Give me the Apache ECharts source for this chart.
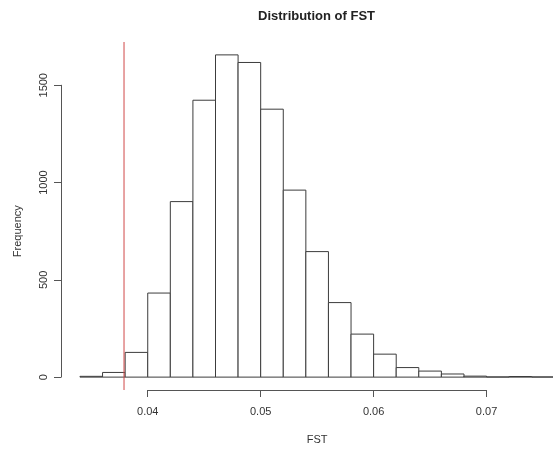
<!DOCTYPE html>
<html><head><meta charset="utf-8">
<script src="https://cdn.jsdelivr.net/npm/echarts@6/dist/echarts.min.js"></script>
<style>html,body{margin:0;padding:0;background:#fff}#c{width:553px;height:450px}</style>
</head><body><div id="c"></div>
<script>
// ---- data ----
const binStart = [0.034, 0.036, 0.038, 0.040, 0.042, 0.044, 0.046, 0.048, 0.050, 0.052,
                  0.054, 0.056, 0.058, 0.060, 0.062, 0.064, 0.066, 0.068, 0.070, 0.072, 0.074];
const binWidth = 0.002;
const frequency = [4, 24, 127, 432, 902, 1423, 1656, 1617, 1377, 961,
                   645, 383, 221, 118, 49, 31, 16, 5, 1, 3, 1];
const thresholdFST = 0.0379;
const xTicks = [0.04, 0.05, 0.06, 0.07];
const yTicks = [0, 500, 1000, 1500];
const titleText = 'Distribution of FST';
const xLabel = 'FST';
const yLabel = 'Frequency';

// ---- layout (R-like plot region with 4% padding) ----
const W = 553, H = 450;
const plot = {left: 61, right: 573.3, top: 42, bottom: 390};
const xLo0 = binStart[0], xHi0 = binStart[binStart.length - 1] + binWidth;
const xPad = 0.04 * (xHi0 - xLo0);
const xMin = xLo0 - xPad, xMax = xHi0 + xPad;
const yMaxData = Math.max(...frequency);
const yMin = -0.04 * yMaxData, yMax = 1.04 * yMaxData;
const px = v => plot.left + (v - xMin) / (xMax - xMin) * (plot.right - plot.left);
const py = v => plot.bottom - (v - yMin) / (yMax - yMin) * (plot.bottom - plot.top);

const FONT = 'Liberation Sans, Arial, Helvetica, sans-serif';
const TXT = '#333';
const AX = '#555';

const chart = echarts.init(document.getElementById('c'));
chart.setOption({
  animation: false,
  backgroundColor: '#fff',
  title: {
    text: titleText, left: 311.5, top: 5, textAlign: 'center',
    textStyle: {fontFamily: FONT, fontSize: 13, fontWeight: 'bold', color: '#222'}
  },
  grid: [
    {left: plot.left, right: W - plot.right, top: plot.top, bottom: H - plot.bottom, outerBoundsMode: 'none', containLabel: false},
    {left: px(xTicks[0]), right: W - px(xTicks[xTicks.length - 1]), top: plot.top, bottom: H - plot.bottom, outerBoundsMode: 'none', containLabel: false},
    {left: plot.left, right: W - plot.right, top: py(yTicks[yTicks.length - 1]), bottom: H - py(yTicks[0]), outerBoundsMode: 'none', containLabel: false}
  ],
  xAxis: [
    {gridIndex: 0, type: 'value', min: xMin, max: xMax, show: false, axisLine: {show: false}, splitLine: {show: false}},
    {gridIndex: 1, type: 'value', min: xTicks[0], max: xTicks[xTicks.length - 1], interval: 0.01,
     name: xLabel, nameLocation: 'middle', nameGap: 44,
     nameTextStyle: {fontFamily: FONT, fontSize: 11, color: TXT},
     axisLine: {show: true, lineStyle: {color: AX, width: 1}},
     axisTick: {show: true, length: 7, lineStyle: {color: AX}},
     axisLabel: {fontFamily: FONT, fontSize: 11, color: TXT, margin: 16, showMinLabel: true, showMaxLabel: true,
                 formatter: v => String(v)},
     splitLine: {show: false}},
    {gridIndex: 2, type: 'value', min: 0, max: 1, show: false, axisLine: {show: false}, splitLine: {show: false}}
  ],
  yAxis: [
    {gridIndex: 0, type: 'value', min: yMin, max: yMax, show: false, axisLine: {show: false}, splitLine: {show: false}},
    {gridIndex: 1, type: 'value', min: 0, max: 1, show: false, axisLine: {show: false}, splitLine: {show: false}},
    {gridIndex: 2, type: 'value', min: yTicks[0], max: yTicks[yTicks.length - 1], interval: 500,
     name: yLabel, nameLocation: 'middle', nameGap: 38, nameRotate: 90,
     nameTextStyle: {fontFamily: FONT, fontSize: 11, color: TXT},
     axisLine: {show: true, lineStyle: {color: AX, width: 1}},
     axisTick: {show: true, length: 7, lineStyle: {color: AX}},
     axisLabel: {fontFamily: FONT, fontSize: 11, color: TXT, margin: 12, rotate: 90, showMinLabel: true, showMaxLabel: true,
                 formatter: v => String(v)},
     splitLine: {show: false}}
  ],
  series: [{
    type: 'custom',
    xAxisIndex: 0, yAxisIndex: 0,
    data: binStart.map((s, i) => [s, s + binWidth, frequency[i]]),
    encode: {x: [0, 1], y: 2},
    renderItem: function (params, api) {
      const p0 = api.coord([api.value(0), api.value(2)]);
      const p1 = api.coord([api.value(1), 0]);
      return {
        type: 'rect',
        shape: {x: p0[0], y: p0[1], width: p1[0] - p0[0], height: p1[1] - p0[1]},
        style: {fill: '#fff', stroke: '#3c3c3c', lineWidth: 1}
      };
    }
  }, {
    type: 'line',
    xAxisIndex: 0, yAxisIndex: 0,
    data: [[thresholdFST, yMin], [thresholdFST, yMax]],
    symbol: 'none', silent: true, z: 5,
    lineStyle: {color: '#d04848', width: 1, type: 'solid'}
  }]
});
</script>
</body></html>
